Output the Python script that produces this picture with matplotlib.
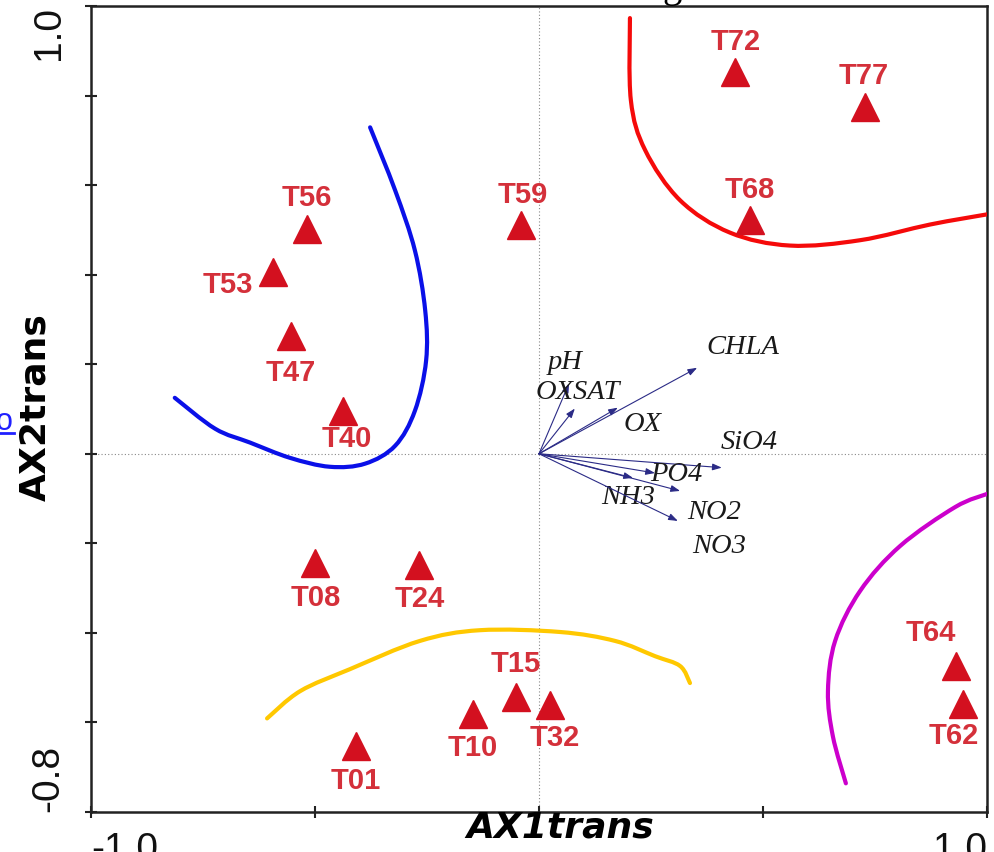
import numpy as np
import matplotlib
matplotlib.use("Agg")
import matplotlib.pyplot as plt
from matplotlib.lines import Line2D
from matplotlib.path import Path
from matplotlib.patches import PathPatch

# --- datos: sitios (triangulos) ---
sitios = ["T72", "T77", "T68", "T59", "T56", "T53", "T47", "T40",
          "T08", "T24", "T15", "T10", "T32", "T01", "T64", "T62"]
sitio_x = [0.4375, 0.728, 0.471, -0.040, -0.518, -0.594, -0.554, -0.4375,
           -0.500, -0.268, -0.051, -0.147, 0.025, -0.408, 0.931, 0.946]
sitio_y = [0.852, 0.774, 0.523, 0.510, 0.501, 0.407, 0.262, 0.096,
           -0.244, -0.248, -0.544, -0.582, -0.561, -0.653, -0.474, -0.559]
# posicion de la etiqueta de cada sitio
etiq_x = [0.440, 0.725, 0.471, -0.036, -0.518, -0.694, -0.554, -0.428,
          -0.498, -0.266, -0.051, -0.147, 0.036, -0.408, 0.875, 0.926]
etiq_y = [0.919, 0.844, 0.588, 0.577, 0.572, 0.376, 0.181, 0.034,
          -0.322, -0.324, -0.470, -0.658, -0.635, -0.730, -0.400, -0.631]

# --- datos: variables ambientales (flechas) ---
variables = ["pH", "OXSAT", "OX", "CHLA", "SiO4", "PO4", "NO2", "NH3", "NO3"]
var_x = [0.067, 0.080, 0.176, 0.353, 0.408, 0.259, 0.315, 0.210, 0.310]
var_y = [0.157, 0.101, 0.103, 0.192, -0.031, -0.043, -0.083, -0.054, -0.150]
var_lx = [0.058, 0.087, 0.232, 0.455, 0.470, 0.306, 0.390, 0.199, 0.402]
var_ly = [0.204, 0.136, 0.065, 0.237, 0.025, -0.047, -0.132, -0.098, -0.206]

# --- datos: curvas de agrupamiento (trazadas a mano) ---
azul_x = [-0.377, -0.321, -0.277, -0.254, -0.252, -0.277, -0.321, -0.388, -0.467, -0.556, -0.645, -0.723, -0.813]
azul_y = [0.729, 0.588, 0.454, 0.320, 0.208, 0.096, 0.018, -0.022, -0.029, -0.009, 0.025, 0.056, 0.125]
rojo_x = [0.203, 0.205, 0.237, 0.315, 0.426, 0.560, 0.717, 0.873, 1.002]
rojo_y = [0.973, 0.790, 0.678, 0.566, 0.494, 0.465, 0.477, 0.512, 0.535]
amarillo_x = [-0.607, -0.533, -0.422, -0.266, -0.132, 0.047, 0.170, 0.259, 0.315, 0.337]
amarillo_y = [-0.591, -0.530, -0.481, -0.418, -0.394, -0.398, -0.418, -0.452, -0.474, -0.512]
magenta_x = [1.002, 0.929, 0.806, 0.717, 0.661, 0.645, 0.656, 0.685]
magenta_y = [-0.089, -0.119, -0.206, -0.306, -0.418, -0.530, -0.631, -0.736]

rojo_sitio = "#d3101f"
rojo_texto = "#d4303a"


def curva_suave(ax, xs, ys, color):
    # trazo suave (Catmull-Rom convertido a Bezier cubicas) por los puntos dados
    p = np.column_stack([xs, ys])
    ext = np.vstack([p[0], p, p[-1]])
    verts = [p[0]]
    codes = [Path.MOVETO]
    for i in range(1, len(ext) - 2):
        p0, p1, p2, p3 = ext[i - 1], ext[i], ext[i + 1], ext[i + 2]
        verts += [p1 + (p2 - p0) / 6, p2 - (p3 - p1) / 6, p2]
        codes += [Path.CURVE4] * 3
    ax.add_patch(PathPatch(Path(verts, codes), fill=False, edgecolor=color, lw=3,
                           capstyle="round", joinstyle="round", zorder=3))


fig = plt.figure(figsize=(9.94, 8.52), dpi=100)
ax = fig.add_axes([91 / 994, 1 - 812 / 852, 896 / 994, 806 / 852])
ax.set_xlim(-1.0, 1.0)
ax.set_ylim(-0.8, 1.0)

# lineas punteadas en el origen
ax.axhline(0, color="#888888", lw=0.8, ls=(0, (1, 2)), zorder=1)
ax.axvline(0, color="#888888", lw=0.8, ls=(0, (1, 2)), zorder=1)

# curvas
curva_suave(ax, azul_x, azul_y, "#0a10e8")
curva_suave(ax, rojo_x, rojo_y, "#f50a0a")
curva_suave(ax, amarillo_x, amarillo_y, "#ffc800")
curva_suave(ax, magenta_x, magenta_y, "#cc00cc")

# flechas
for nombre, x, y, lx, ly in zip(variables, var_x, var_y, var_lx, var_ly):
    ax.annotate("", xy=(x, y), xytext=(0, 0),
                arrowprops=dict(arrowstyle="-|>,head_length=0.55,head_width=0.2",
                                color="#2b2b86", lw=0.8, shrinkA=0, shrinkB=0))
    ax.text(lx, ly, nombre, fontsize=20.5, family="Liberation Serif", style="italic",
            color="#1a1a1a", ha="center", va="center")

# sitios
ax.plot(sitio_x, sitio_y, ls="none", marker="^", ms=20, color=rojo_sitio, zorder=5)
for nombre, lx, ly in zip(sitios, etiq_x, etiq_y):
    ax.text(lx, ly, nombre, fontsize=21, family="Liberation Sans", weight="bold",
            color=rojo_texto, ha="center", va="center", zorder=6)

# ejes
for s in ax.spines.values():
    s.set_linewidth(1.8)
    s.set_color("#222222")
ax.set_xticks([-1.0, -0.5, 0.0, 0.5, 1.0])
ax.set_xticklabels(["-1.0", "", "", "", "1.0"])
ax.set_yticks(np.round(np.arange(-0.8, 1.01, 0.2), 1))
ax.set_yticklabels(["-0.8"] + [""] * 8 + ["1.0"])
ax.tick_params(axis="both", direction="inout", length=9, width=1.5, color="#222222",
               labelsize=28, labelcolor="#111111")
ax.tick_params(axis="x", pad=10)
ax.tick_params(axis="y", pad=13)
for t in ax.get_xticklabels():
    t.set_family("Liberation Sans")
xt = ax.get_xticklabels()
xt[0].set_ha("left")
xt[-1].set_ha("right")
yt = ax.get_yticklabels()
for t in yt:
    t.set_family("Liberation Sans")
    t.set_rotation(90)
    t.set_ha("right")
yt[0].set_va("bottom")
yt[-1].set_va("top")

# titulos de ejes
fig.text(560 / 994, 1 - 837 / 852, "AX1trans", fontsize=26, family="DejaVu Sans",
         weight="bold", style="italic", ha="center", va="baseline")
fig.text(45 / 994, 1 - 407 / 852, "AX2trans", fontsize=26, family="DejaVu Sans",
         weight="bold", rotation=90, rotation_mode="anchor", ha="center", va="baseline")

# restos del documento original
fig.text(672 / 994, 1 + 3 / 852, "g", fontsize=28, family="Liberation Serif",
         ha="center", va="baseline")
fig.text(-4 / 994, 1 - 430 / 852, "o", fontsize=22, family="Liberation Sans",
         color="#2020ff", ha="left", va="baseline")
fig.add_artist(Line2D([0, 14 / 994], [1 - 433 / 852] * 2, color="#2020ff", lw=2))

fig.savefig("out.png", dpi=100)
